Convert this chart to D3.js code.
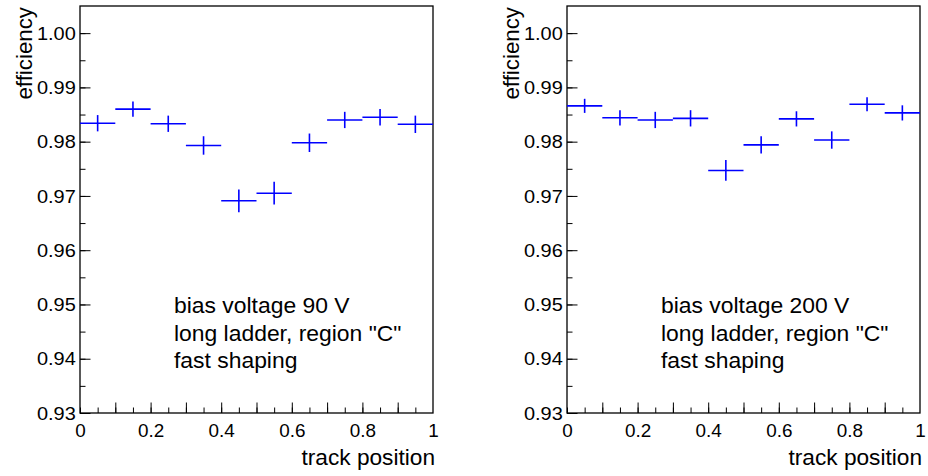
<!DOCTYPE html>
<html>
<head>
<meta charset="utf-8">
<script src="https://cdn.jsdelivr.net/npm/d3@7"></script>
<style>
  html, body { margin: 0; padding: 0; background: #fff; }
  svg { display: block; font-family: "Liberation Sans", Arial, Helvetica, sans-serif; }
</style>
</head>
<body>
<svg id="chart" width="928" height="476"></svg>
<script>
// Bin centres along the track (bin width 0.1)
const trackPos = [0.05, 0.15, 0.25, 0.35, 0.45, 0.55, 0.65, 0.75, 0.85, 0.95];
const binWidth = 0.1;

// Efficiency per bin and its uncertainty, 90 V bias
const eff90 = [0.9834, 0.9860, 0.9833, 0.9793, 0.9691, 0.9705, 0.9798, 0.9840, 0.9845, 0.9832];
const err90 = [0.0015, 0.0014, 0.0015, 0.0017, 0.0021, 0.0021, 0.0017, 0.0015, 0.0015, 0.0016];

// Efficiency per bin and its uncertainty, 200 V bias
const eff200 = [0.9866, 0.9844, 0.9840, 0.9843, 0.9747, 0.9794, 0.9842, 0.9803, 0.9869, 0.9853];
const err200 = [0.0013, 0.0014, 0.0015, 0.0015, 0.0019, 0.0016, 0.0014, 0.0016, 0.0013, 0.0014];

// Axis tick labels
const xTickLabels = ["0", "0.2", "0.4", "0.6", "0.8", "1"];
const yTickLabels = ["0.93", "0.94", "0.95", "0.96", "0.97", "0.98", "0.99", "1.00"];

// Annotation text for each pad
const notes90 = ["bias voltage 90 V", "long ladder, region \"C\"", "fast shaping"];
const notes200 = ["bias voltage 200 V", "long ladder, region \"C\"", "fast shaping"];

const svg = d3.select("#chart");
const STRETCH = 1.05;   // glyphs are drawn slightly wide
const padTop = 6, padBottom = 413, frameW = 353;

function drawPad(left, eff, err, notes) {
  const x = d3.scaleLinear().domain([0, 1]).range([left, left + frameW]);
  const y = d3.scaleLinear().domain([0.93, 1.005]).range([padBottom, padTop]);
  const g = svg.append("g");

  // minor ticks
  g.append("g").attr("transform", `translate(0,${padBottom})`)
    .call(d3.axisBottom(x).tickValues(d3.range(0, 20).map(i => i * 0.05)).tickSize(-5.5).tickFormat(""))
    .call(s => s.select(".domain").remove());
  g.append("g").attr("transform", `translate(${left},0)`)
    .call(d3.axisLeft(y).tickValues(d3.range(0, 15).map(i => 0.93 + i * 0.005)).tickSize(-5.5).tickFormat(""))
    .call(s => s.select(".domain").remove());

  // major ticks
  g.append("g").attr("transform", `translate(0,${padBottom})`)
    .call(d3.axisBottom(x).tickValues(d3.range(1, 10).map(i => i * 0.1)).tickSize(-10.5).tickFormat(""))
    .call(s => s.select(".domain").remove());

  // x labels
  const xa = g.append("g").attr("transform", `translate(0,${padBottom})`)
    .call(d3.axisBottom(x).tickValues(xTickLabels.map(Number)).tickSize(0).tickPadding(11)
      .tickFormat((d, i) => xTickLabels[i]))
    .call(s => s.select(".domain").remove());
  xa.selectAll("text").attr("font-size", 18).attr("fill", "#000")
    .attr("font-family", "Liberation Sans, Arial, sans-serif")
    .attr("transform", `scale(${STRETCH},1)`);

  // y axis: major ticks with labels
  const ya = g.append("g").attr("transform", `translate(${left},0)`)
    .call(d3.axisLeft(y).tickValues(yTickLabels.map(Number)).tickSize(-10.5).tickPadding(4)
      .tickFormat((d, i) => yTickLabels[i]))
    .call(s => s.select(".domain").remove());
  ya.selectAll("text").attr("font-size", 19).attr("fill", "#000")
    .attr("font-family", "Liberation Sans, Arial, sans-serif")
    .attr("transform", `scale(${STRETCH},1)`);
  g.selectAll(".tick line").attr("stroke", "#000").attr("stroke-width", 1);

  // frame
  g.append("rect")
    .attr("x", x(0)).attr("y", y(1.005))
    .attr("width", x(1) - x(0)).attr("height", y(0.93) - y(1.005))
    .attr("fill", "none").attr("stroke", "#000").attr("stroke-width", 1.3);

  // data: horizontal bin width bars and vertical error bars
  const pts = trackPos.map((c, i) => ({ c, v: eff[i], e: err[i] }));
  const marks = g.append("g").attr("stroke", "#0000ff").attr("stroke-width", 1.6);
  marks.selectAll("line.h").data(pts).join("line").attr("class", "h")
    .attr("x1", d => x(d.c - binWidth / 2)).attr("x2", d => x(d.c + binWidth / 2))
    .attr("y1", d => y(d.v)).attr("y2", d => y(d.v));
  marks.selectAll("line.v").data(pts).join("line").attr("class", "v")
    .attr("x1", d => x(d.c)).attr("x2", d => x(d.c))
    .attr("y1", d => y(d.v - d.e)).attr("y2", d => y(d.v + d.e));

  // axis titles
  svg.append("text")
    .attr("transform", `translate(${x(1) + 2},465) scale(${STRETCH},1)`)
    .attr("text-anchor", "end").attr("font-size", 21.6).attr("fill", "#000")
    .text("track position");
  svg.append("text")
    .attr("transform", `translate(${left - 48},${padTop + 1}) rotate(-90)`)
    .attr("text-anchor", "end").attr("font-size", 22.3).attr("fill", "#000")
    .text("efficiency");

  // annotation
  notes.forEach((t, i) => {
    svg.append("text")
      .attr("transform", `translate(${left + 94},${313 + i * 27.5}) scale(${STRETCH},1)`)
      .attr("font-size", 21.8).attr("fill", "#000")
      .text(t);
  });
}

drawPad(80, eff90, err90, notes90);
drawPad(567, eff200, err200, notes200);
</script>
</body>
</html>
